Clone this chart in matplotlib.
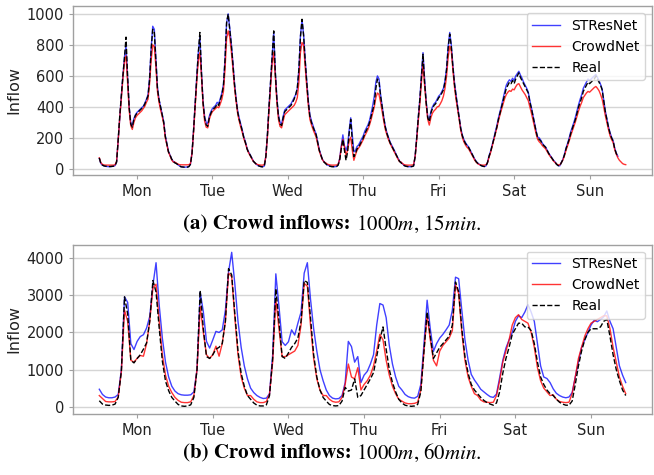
import numpy as np
import matplotlib
matplotlib.use("Agg")
import matplotlib.pyplot as plt

days = ["Mon", "Tue", "Wed", "Thu", "Fri", "Sat", "Sun"]

# ---------- (a) 1000m, 15min  (sampled every half hour) ----------
real_15 = (
    [71, 35, 25, 20, 18, 17, 16, 16, 17, 18, 22, 45, 186, 340, 468, 600, 714, 850, 600, 400,
     290, 270, 320, 345, 360, 370, 381, 390, 400, 420, 446, 470, 576, 770, 900, 880, 700, 520, 446, 400,
     350, 300, 210, 160, 110, 90, 65, 50]
    + [40, 35, 28, 20, 14, 13, 12, 12, 12, 15, 30, 100, 250, 420, 590, 750, 880, 620, 430, 330,
       285, 275, 330, 360, 380, 390, 400, 420, 410, 446, 480, 537, 700, 944, 998, 900, 800, 680, 550, 450,
       370, 320, 285, 245, 200, 170, 130, 105]
    + [90, 70, 50, 40, 30, 22, 18, 15, 14, 18, 80, 220, 400, 560, 720, 890, 620, 450, 340, 290,
       280, 330, 370, 380, 390, 400, 410, 430, 450, 480, 520, 640, 850, 965, 860, 700, 560, 430, 340, 300,
       270, 245, 220, 170, 120, 90, 60, 45]
    + [35, 25, 20, 17, 15, 15, 15, 16, 25, 60, 130, 190, 120, 56, 110, 230, 320, 180, 80, 100,
       130, 140, 160, 180, 200, 230, 250, 270, 300, 340, 380, 420, 520, 580, 560, 470, 400, 330, 270, 230,
       200, 170, 150, 130, 110, 90, 70, 50]
    + [40, 30, 22, 18, 16, 15, 15, 16, 19, 80, 200, 330, 450, 600, 740, 560, 430, 330, 305, 360,
       390, 410, 420, 440, 460, 470, 490, 510, 560, 640, 780, 870, 790, 660, 550, 470, 400, 330, 260, 215,
       185, 165, 150, 140, 120, 100, 80, 60]
    + [45, 35, 28, 22, 18, 16, 18, 40, 80, 110, 150, 190, 230, 270, 320, 360, 400, 440, 480, 520,
       540, 560, 550, 570, 550, 580, 600, 620, 590, 570, 550, 530, 510, 490, 430, 390, 340, 290, 240, 200,
       190, 180, 160, 150, 140, 120, 100, 85]
    + [70, 55, 45, 30, 22, 20, 40, 60, 90, 130, 160, 190, 230, 260, 290, 320, 360, 400, 430, 460,
       500, 520, 540, 560, 550, 560, 570, 580, 600, 580, 560, 540, 510, 440, 370, 320, 270, 230, 200, 180,
       130, 100, 80]
)
stres_15 = (
    [68, 35, 25, 20, 17, 16, 15, 15, 16, 18, 22, 45, 190, 345, 470, 600, 720, 790, 600, 400,
     300, 280, 325, 350, 365, 375, 385, 395, 405, 425, 450, 480, 590, 780, 920, 900, 710, 530, 450, 400,
     355, 305, 215, 165, 115, 90, 65, 50]
    + [42, 36, 28, 20, 15, 13, 12, 12, 13, 16, 32, 105, 255, 425, 595, 750, 850, 630, 440, 340,
       300, 290, 340, 370, 390, 400, 410, 430, 420, 455, 490, 545, 710, 940, 1000, 910, 810, 690, 560, 460,
       380, 330, 290, 250, 205, 175, 135, 110]
    + [92, 72, 52, 40, 30, 22, 18, 15, 15, 19, 85, 225, 405, 565, 720, 880, 630, 460, 350, 300,
       290, 340, 380, 390, 400, 410, 420, 440, 460, 480, 520, 640, 860, 960, 870, 710, 570, 440, 350, 310,
       280, 250, 225, 175, 125, 92, 62, 47]
    + [37, 27, 22, 18, 16, 15, 15, 17, 28, 70, 150, 220, 150, 120, 150, 250, 330, 220, 110, 120,
       145, 155, 175, 195, 215, 245, 265, 285, 315, 360, 410, 470, 560, 600, 580, 480, 405, 335, 275, 235,
       205, 175, 155, 135, 115, 92, 72, 52]
    + [42, 31, 23, 18, 16, 15, 15, 16, 20, 85, 205, 335, 455, 610, 750, 580, 440, 340, 315, 370,
       400, 420, 430, 450, 470, 480, 500, 520, 570, 650, 790, 880, 800, 670, 560, 480, 405, 335, 265, 220,
       190, 170, 155, 142, 122, 102, 82, 62]
    + [47, 37, 29, 22, 18, 16, 19, 42, 85, 115, 155, 195, 240, 280, 330, 370, 410, 455, 500, 540,
       560, 575, 565, 585, 570, 600, 615, 630, 605, 585, 560, 540, 520, 495, 440, 395, 345, 295, 245, 205,
       200, 185, 165, 152, 142, 122, 102, 87]
    + [72, 57, 46, 31, 22, 20, 42, 62, 95, 135, 165, 200, 240, 270, 300, 335, 375, 415, 450, 480,
       520, 540, 560, 580, 570, 580, 590, 600, 610, 590, 570, 545, 515, 445, 375, 325, 275, 235, 205, 182,
       135, 102, 82]
)
crowd_15 = (
    [72, 40, 30, 26, 25, 25, 25, 25, 25, 25, 27, 50, 180, 330, 450, 580, 690, 730, 560, 380,
     280, 255, 300, 330, 345, 355, 365, 375, 390, 405, 430, 450, 550, 700, 800, 790, 660, 500, 430, 380,
     340, 290, 200, 155, 110, 85, 60, 45]
    + [45, 38, 32, 28, 27, 27, 27, 27, 27, 28, 35, 100, 240, 400, 560, 700, 750, 600, 420, 310,
       270, 265, 320, 350, 370, 380, 390, 400, 395, 420, 450, 500, 640, 840, 890, 850, 760, 650, 530, 440,
       360, 310, 270, 235, 195, 165, 130, 105]
    + [85, 68, 50, 40, 32, 28, 26, 25, 25, 28, 80, 210, 380, 530, 680, 750, 600, 430, 320, 275,
       265, 310, 350, 360, 370, 380, 390, 400, 410, 430, 460, 560, 750, 815, 800, 660, 530, 410, 320, 285,
       255, 230, 205, 160, 115, 85, 60, 45]
    + [40, 32, 28, 26, 25, 25, 25, 26, 30, 65, 140, 190, 140, 90, 120, 180, 205, 120, 56, 90,
       120, 135, 150, 170, 190, 215, 235, 255, 285, 320, 360, 400, 460, 490, 480, 430, 370, 310, 255, 220,
       190, 165, 145, 125, 105, 85, 65, 48]
    + [45, 35, 28, 26, 25, 25, 25, 26, 28, 80, 190, 310, 420, 560, 680, 540, 420, 320, 283, 330,
       360, 375, 385, 400, 403, 420, 440, 470, 520, 600, 720, 792, 760, 640, 530, 450, 385, 320, 250, 205,
       175, 155, 140, 130, 112, 95, 75, 55]
    + [42, 33, 28, 26, 25, 25, 27, 40, 75, 105, 145, 185, 225, 265, 310, 350, 385, 420, 455, 480,
       495, 505, 500, 515, 510, 530, 545, 550, 530, 510, 495, 480, 460, 440, 400, 360, 315, 270, 225, 190,
       175, 165, 150, 140, 130, 112, 95, 80]
    + [68, 52, 42, 32, 27, 26, 40, 58, 85, 120, 150, 180, 215, 245, 275, 305, 340, 375, 405, 430,
       460, 475, 490, 500, 495, 505, 515, 525, 532, 520, 505, 480, 450, 400, 345, 300, 255, 215, 190, 170,
       125, 95, 72, 56, 45, 35, 30, 28]
)

# ---------- (b) 1000m, 60min (hourly) ----------
real_60 = (
    [160, 70, 45, 35, 40, 70, 250, 960, 2960, 2500, 1250, 1180, 1300, 1400, 1550, 1720, 2300, 3400, 3090, 2120, 1230, 690, 430, 250]
    + [150, 60, 20, 10, 20, 50, 250, 1000, 3130, 2100, 1350, 1300, 1400, 1550, 1600, 1700, 2300, 3720, 3550, 2500, 1500, 900, 550, 300]
    + [200, 100, 40, 20, 20, 50, 300, 1300, 3180, 2300, 1350, 1300, 1450, 1600, 1700, 1850, 2300, 3400, 3350, 2400, 1400, 800, 450, 250]
    + [150, 60, 30, 20, 30, 150, 520, 420, 450, 750, 250, 300, 450, 600, 750, 920, 1350, 1800, 2150, 1550, 1000, 650, 400, 200]
    + [100, 40, 20, 10, 20, 60, 400, 1500, 2550, 1900, 1300, 1450, 1600, 1700, 1800, 1900, 2200, 3360, 3100, 2100, 1350, 900, 600, 450]
    + [350, 250, 170, 110, 70, 40, 100, 400, 900, 1300, 1600, 1950, 2100, 2250, 2250, 2150, 2150, 2050, 1700, 1200, 800, 600, 450, 350]
    + [300, 200, 120, 70, 40, 40, 150, 600, 1100, 1500, 1800, 2000, 2100, 2100, 2100, 2150, 2300, 2350, 1900, 1400, 1000, 700, 450, 300]
)
stres_60 = (
    [470, 330, 260, 240, 240, 260, 330, 1000, 2960, 2810, 1700, 1540, 1760, 1890, 1940, 2120, 2430, 3270, 3880, 2740, 1850, 1200, 800, 550]
    + [420, 350, 320, 310, 310, 320, 400, 1000, 3090, 2560, 1760, 1580, 1800, 2030, 2000, 2070, 2600, 3630, 4160, 3300, 2300, 1600, 1100, 750]
    + [500, 380, 300, 250, 220, 230, 350, 1400, 3580, 2700, 1750, 1650, 1750, 2070, 1930, 2250, 2550, 3600, 3880, 2900, 2100, 1500, 1000, 700]
    + [450, 300, 230, 210, 220, 300, 650, 1760, 1620, 1200, 1350, 650, 850, 950, 1150, 1400, 2200, 2780, 2740, 2400, 1650, 1150, 800, 550]
    + [450, 330, 270, 240, 230, 280, 600, 1700, 2870, 2100, 1490, 1700, 1850, 1950, 2070, 2200, 2600, 3490, 3450, 2600, 1800, 1250, 870, 720]
    + [600, 470, 400, 330, 270, 250, 340, 780, 1250, 1580, 1800, 2000, 2300, 2450, 2400, 2550, 2750, 2550, 2300, 1700, 1100, 800, 760, 650]
    + [480, 360, 300, 260, 240, 260, 380, 800, 1200, 1600, 1800, 2000, 2200, 2330, 2290, 2350, 2420, 2580, 2300, 2100, 1600, 1100, 850, 650]
)
crowd_60 = (
    [300, 220, 140, 130, 130, 140, 260, 950, 2600, 2300, 1250, 1200, 1300, 1380, 1360, 1700, 2300, 3200, 3300, 2300, 1400, 850, 550, 380]
    + [250, 170, 120, 110, 110, 130, 300, 1000, 2700, 2000, 1400, 1300, 1400, 1630, 1360, 1700, 2300, 3600, 3500, 2400, 1400, 800, 500, 300]
    + [300, 200, 130, 110, 110, 140, 350, 1200, 2900, 2100, 1350, 1350, 1400, 1450, 1500, 1650, 2200, 3320, 3250, 2200, 1300, 750, 450, 300]
    + [300, 200, 140, 120, 130, 250, 600, 1150, 800, 750, 1050, 450, 600, 700, 850, 1100, 1500, 1950, 1800, 1250, 850, 550, 350, 200]
    + [150, 100, 80, 80, 90, 120, 450, 1500, 2470, 1800, 1250, 1100, 1500, 1650, 1750, 1850, 2050, 3280, 3050, 2000, 1250, 800, 550, 350]
    + [300, 180, 130, 120, 110, 120, 300, 700, 1200, 1500, 1800, 2200, 2400, 2480, 2350, 2300, 2250, 2000, 1600, 1050, 700, 500, 400, 300]
    + [320, 200, 140, 120, 110, 120, 350, 800, 1300, 1600, 1900, 2100, 2250, 2300, 2350, 2400, 2450, 2450, 2100, 1600, 1200, 800, 550, 350]
)

yticks_a = [0, 200, 400, 600, 800, 1000]
yticks_b = [0, 1000, 2000, 3000, 4000]
cap_bold = ["(a) Crowd inflows:", "(b) Crowd inflows:"]
cap_rest = [r"1000$m$, 15$min$.", r"1000$m$, 60$min$."]

plt.rcParams["mathtext.fontset"] = "stix"
fig = plt.figure(figsize=(6.54, 4.75), dpi=100)
ax1 = fig.add_axes([0.1116, 0.632, 0.8854, 0.355])
ax2 = fig.add_axes([0.1116, 0.1284, 0.8854, 0.3566])

def style(ax, yticks):
    ax.set_yticks(yticks)
    ax.set_xticks([12 + 24 * k for k in range(7)])
    ax.set_xticklabels(days)
    ax.grid(axis="y", color="#d5d5d5", lw=1)
    ax.set_axisbelow(True)
    for s in ax.spines.values():
        s.set_color("#a0a0a0")
        s.set_linewidth(1)
    ax.tick_params(axis="both", labelsize=10.5, colors="#a0a0a0", labelcolor="#222222", length=3)
    ax.set_ylabel("Inflow", fontsize=11.5, color="#222222")
    ax.legend(loc="upper right", fontsize=10)

xa_r = np.arange(len(real_15)) * 0.5
xa_s = np.arange(len(stres_15)) * 0.5
xa_c = np.arange(len(crowd_15)) * 0.5
ax1.plot(xa_s, stres_15, color="blue", alpha=0.75, lw=1, label="STResNet")
ax1.plot(xa_c, crowd_15, color="red", alpha=0.8, lw=1, label="CrowdNet")
ax1.plot(xa_r, real_15, color="black", ls="--", lw=1, label="Real")
style(ax1, yticks_a)

xb = np.arange(len(real_60))
ax2.plot(xb, stres_60, color="blue", alpha=0.75, lw=1, label="STResNet")
ax2.plot(xb, crowd_60, color="red", alpha=0.8, lw=1, label="CrowdNet")
ax2.plot(xb, real_60, color="black", ls="--", lw=1, label="Real")
style(ax2, yticks_b)

# captions: bold part + regular part, centred together
renderer = fig.canvas.get_renderer()
fs = 15
for yc, b, r in [(0.527, cap_bold[0], cap_rest[0]), (0.046, cap_bold[1], cap_rest[1])]:
    t1 = fig.text(0, yc, b, ha="left", va="center", fontsize=fs,
                  family="STIXGeneral", weight="bold")
    t2 = fig.text(0, yc, " " + r, ha="left", va="center", fontsize=fs,
                  family="STIXGeneral")
    w1 = t1.get_window_extent(renderer).width / fig.bbox.width
    w2 = t2.get_window_extent(renderer).width / fig.bbox.width
    x0 = 0.508 - (w1 + w2) / 2
    t1.set_x(x0)
    t2.set_x(x0 + w1)

fig.savefig("out.png", dpi=100)
